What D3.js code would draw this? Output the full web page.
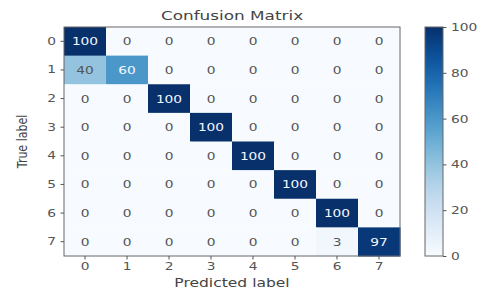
<!DOCTYPE html>
<html><head><meta charset="utf-8">
<script src="https://cdn.jsdelivr.net/npm/d3@7"></script>
<style>body{margin:0;background:#fff;} text{font-family:"DejaVu Sans",sans-serif;}</style>
</head><body>
<svg id="c" width="481" height="294"></svg>
<script>
const labels = ["0","1","2","3","4","5","6","7"];
const matrix = [
  [100,0,0,0,0,0,0,0],
  [40,60,0,0,0,0,0,0],
  [0,0,100,0,0,0,0,0],
  [0,0,0,100,0,0,0,0],
  [0,0,0,0,100,0,0,0],
  [0,0,0,0,0,100,0,0],
  [0,0,0,0,0,0,100,0],
  [0,0,0,0,0,0,3,97]
];
const cbTicks = [0,20,40,60,80,100];

const SX = 1.25;
const svg = d3.select("#c");
const L=64, R=400, T=27, B=256;
const x = d3.scaleBand().domain(labels).range([L,R]);
const y = d3.scaleBand().domain(labels).range([T,B]);
const color = d3.scaleSequential(d3.interpolateBlues).domain([0,100]);
const txtCol = "#555";

const cells = [];
matrix.forEach((row,i)=>row.forEach((v,j)=>cells.push({r:labels[i],c:labels[j],v})));
svg.append("g").selectAll("rect").data(cells).join("rect")
  .attr("x",d=>x(d.c)).attr("y",d=>y(d.r))
  .attr("width",x.bandwidth()+0.5).attr("height",y.bandwidth()+0.5)
  .attr("fill",d=>color(d.v));
svg.append("g").selectAll("text").data(cells).join("text")
  .attr("transform",d=>`translate(${x(d.c)+x.bandwidth()/2},${y(d.r)+y.bandwidth()/2}) scale(${SX},1)`)
  .attr("text-anchor","middle").attr("dominant-baseline","central")
  .attr("font-size",11).attr("fill",d=>d.v>50?"#f4f8ff":txtCol).text(d=>d.v);

svg.append("rect").attr("x",L).attr("y",T).attr("width",R-L).attr("height",B-T)
  .attr("fill","none").attr("stroke","#666").attr("stroke-width",1);

const xa = svg.append("g").attr("transform",`translate(0,${B})`).call(d3.axisBottom(x).tickSize(3.5).tickPadding(3));
const ya = svg.append("g").attr("transform",`translate(${L},0)`).call(d3.axisLeft(y).tickSize(3.5).tickPadding(3));
[xa,ya].forEach(a=>{a.select(".domain").remove();a.selectAll("line").attr("stroke","#555");a.selectAll("text").attr("font-size",11).attr("fill",txtCol).attr("font-family","DejaVu Sans").attr("transform",`scale(${SX},1)`);});

svg.append("text").attr("transform",`translate(${(L+R)/2},20) scale(1.35,1)`).attr("text-anchor","middle").attr("font-size",12.5).attr("fill","#444").text("Confusion Matrix");
svg.append("text").attr("transform",`translate(${(L+R)/2},287) scale(1.35,1)`).attr("text-anchor","middle").attr("font-size",11.5).attr("fill","#444").text("Predicted label");
svg.append("text").attr("transform",`translate(27,${(T+B)/2}) rotate(-90) scale(1,1.3)`).attr("text-anchor","middle").attr("font-size",11).attr("fill","#444").text("True label");

// colorbar
const cbL=425, cbW=18;
const cy = d3.scaleLinear().domain([0,100]).range([B,T]);
const defs = svg.append("defs");
const grad = defs.append("linearGradient").attr("id","g").attr("x1",0).attr("y1",1).attr("x2",0).attr("y2",0);
d3.range(0,1.0001,0.05).forEach(t=>grad.append("stop").attr("offset",t).attr("stop-color",d3.interpolateBlues(t)));
svg.append("rect").attr("x",cbL).attr("y",T).attr("width",cbW).attr("height",B-T).attr("fill","url(#g)").attr("stroke","#666");
const ca = svg.append("g").attr("transform",`translate(${cbL+cbW},0)`).call(d3.axisRight(cy).tickValues(cbTicks).tickSize(3.5).tickPadding(3));
ca.select(".domain").remove();
ca.selectAll("line").attr("stroke","#555");
ca.selectAll("text").attr("font-size",11).attr("fill",txtCol).attr("font-family","DejaVu Sans").attr("transform",`scale(${SX},1)`);
</script>
</body></html>
